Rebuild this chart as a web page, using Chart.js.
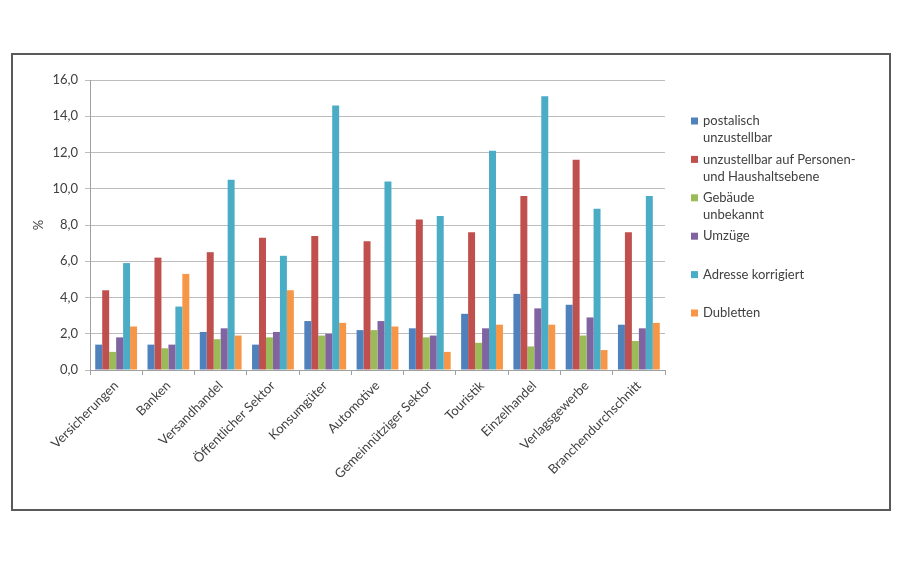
<!DOCTYPE html>
<html>
<head>
<meta charset="utf-8">
<script src="https://cdn.jsdelivr.net/npm/chart.js@4"></script>
<style>
  html, body { margin: 0; padding: 0; background: #fff; }
  #wrap { width: 900px; height: 563px; }
</style>
</head>
<body>
<div id="wrap"><canvas id="bars" width="900" height="563"></canvas></div>
<script>
const categories = ['Versicherungen', 'Banken', 'Versandhandel', 'Öffentlicher Sektor', 'Konsumgüter',
  'Automotive', 'Gemeinnütziger Sektor', 'Touristik', 'Einzelhandel', 'Verlagsgewerbe', 'Branchendurchschnitt'];

const seriesNames = [
  ['postalisch', 'unzustellbar'],
  ['unzustellbar auf Personen-', 'und Haushaltsebene'],
  ['Gebäude', 'unbekannt'],
  ['Umzüge'],
  ['Adresse korrigiert'],
  ['Dubletten']
];

const postalisch = [1.4, 1.4, 2.1, 1.4, 2.7, 2.2, 2.3, 3.1, 4.2, 3.6, 2.5];
const personen   = [4.4, 6.2, 6.5, 7.3, 7.4, 7.1, 8.3, 7.6, 9.6, 11.6, 7.6];
const gebaeude   = [1.0, 1.2, 1.7, 1.8, 1.9, 2.2, 1.8, 1.5, 1.3, 1.9, 1.6];
const umzuege    = [1.8, 1.4, 2.3, 2.1, 2.0, 2.7, 1.9, 2.3, 3.4, 2.9, 2.3];
const korrigiert = [5.9, 3.5, 10.5, 6.3, 14.6, 10.4, 8.5, 12.1, 15.1, 8.9, 9.6];
const dubletten  = [2.4, 5.3, 1.9, 4.4, 2.6, 2.4, 1.0, 2.5, 2.5, 1.1, 2.6];

const yTicks = [0, 2, 4, 6, 8, 10, 12, 14, 16];

const colors = ['#4f81bd', '#c0504d', '#9bbb59', '#8064a2', '#4bacc6', '#f79646'];
const values = [postalisch, personen, gebaeude, umzuege, korrigiert, dubletten];

const fontFam = 'Lato, "Open Sans", sans-serif';
const textCol = '#404040';

// frame around the whole chart, like the exported office chart
const framePlugin = {
  id: 'frame',
  beforeDraw(chart) {
    const c = chart.ctx;
    c.save();
    c.fillStyle = '#fff';
    c.fillRect(0, 0, chart.width, chart.height);
    c.strokeStyle = '#5a5a5a';
    c.lineWidth = 2;
    c.strokeRect(12, 54, 878, 456);
    c.restore();
  }
};

// legend on the right with two-line labels
const sideLegend = {
  id: 'sideLegend',
  afterDraw(chart) {
    const c = chart.ctx;
    c.save();
    c.font = '13px ' + fontFam;
    c.textBaseline = 'middle';
    c.fillStyle = textCol;
    chart.data.datasets.forEach((ds, i) => {
      const y = 121 + i * 38.4;
      c.fillStyle = ds.backgroundColor;
      c.fillRect(691, y - 3.5, 7, 7);
      c.fillStyle = textCol;
      ds.lines.forEach((t, j) => c.fillText(t, 703, y + j * 17));
    });
    c.restore();
  }
};

new Chart(document.getElementById('bars'), {
  type: 'bar',
  data: {
    labels: categories,
    datasets: values.map((v, i) => ({
      label: seriesNames[i].join(' '),
      lines: seriesNames[i],
      data: v,
      backgroundColor: colors[i],
      borderWidth: 0,
      categoryPercentage: 0.8,
      barPercentage: 1.0
    }))
  },
  options: {
    responsive: false,
    animation: false,
    layout: { padding: { left: 31, right: 235, top: 80, bottom: 0 } },
    plugins: {
      legend: { display: false },
      tooltip: { enabled: false }
    },
    scales: {
      x: {
        grid: { drawOnChartArea: false, drawTicks: true, tickLength: 5, color: '#a0a0a0', offset: true },
        border: { color: '#a0a0a0' },
        ticks: {
          minRotation: 45, maxRotation: 45, autoSkip: false,
          color: textCol, font: { family: fontFam, size: 13 }, padding: 3
        },
        afterFit(s) { s.height = 193; }
      },
      y: {
        min: 0, max: 16,
        afterBuildTicks(s) { s.ticks = yTicks.map(v => ({ value: v })); },
        grid: { color: '#bdbdbd', tickLength: 5, drawTicks: true },
        border: { color: '#a0a0a0' },
        ticks: {
          color: textCol, font: { family: fontFam, size: 13 }, padding: 7,
          callback: v => v.toFixed(1).replace('.', ',')
        },
        title: { display: true, text: '%', color: textCol, font: { family: fontFam, size: 13 }, padding: 0 },
        afterFit(s) { s.width = 59; }
      }
    }
  },
  plugins: [framePlugin, sideLegend]
});
</script>
</body>
</html>
